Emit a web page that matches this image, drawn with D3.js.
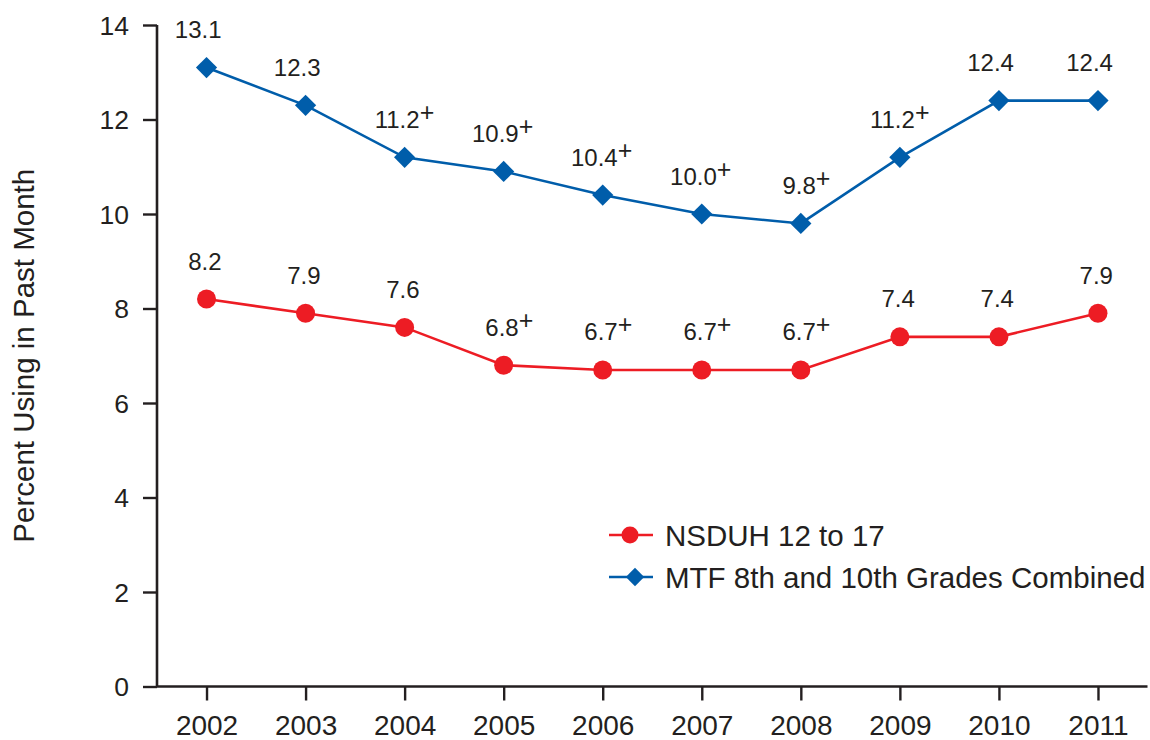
<!DOCTYPE html>
<html>
<head>
<meta charset="utf-8">
<script src="https://cdn.jsdelivr.net/npm/d3@7"></script>
<style>
  html, body { margin: 0; padding: 0; background: #fff; }
  svg { display: block; font-family: "Liberation Sans", Arial, Helvetica, sans-serif; }
</style>
</head>
<body>
<svg id="chart" width="1150" height="740"></svg>
<script>
// Past-month use by year, two surveys
const years = [2002, 2003, 2004, 2005, 2006, 2007, 2008, 2009, 2010, 2011];
const nsduhValues = [8.2, 7.9, 7.6, 6.8, 6.7, 6.7, 6.7, 7.4, 7.4, 7.9];
const mtfValues = [13.1, 12.3, 11.2, 10.9, 10.4, 10.0, 9.8, 11.2, 12.4, 12.4];
// "+" marks years that differ significantly from the final year
const nsduhSig = [false, false, false, true, true, true, true, false, false, false];
const mtfSig = [false, false, true, true, true, true, true, true, false, false];
const yTicks = [0, 2, 4, 6, 8, 10, 12, 14];
const seriesNames = ["NSDUH 12 to 17", "MTF 8th and 10th Grades Combined"];
const yTitle = "Percent Using in Past Month";

const ink = "#231f20";
const red = "#ed1c24";
const blue = "#005daa";

const svg = d3.select("#chart");
const plotLeft = 157, plotRight = 1147.5, plotTop = 25, plotBottom = 686.5;

const x = d3.scaleLinear().domain([2001.5, 2011.5]).range([plotLeft, plotRight]);
const y = d3.scaleLinear().domain([0, 14]).range([plotBottom, plotTop]);

// Y axis
const yAxis = svg.append("g")
  .attr("transform", `translate(${plotLeft},0)`)
  .call(d3.axisLeft(y).tickValues(yTicks).tickSize(14).tickPadding(14).tickFormat(d3.format("d")));
yAxis.select(".domain").attr("d", `M0,${plotTop}V${plotBottom}`).attr("stroke", ink).attr("stroke-width", 2.6);
yAxis.selectAll(".tick line").attr("stroke", ink).attr("stroke-width", 2.4);
yAxis.selectAll(".tick text").attr("fill", ink).attr("font-size", 26.5).attr("dy", "0.35em");

// X axis
const xAxis = svg.append("g")
  .attr("transform", `translate(0,${plotBottom})`)
  .call(d3.axisBottom(x).tickValues(years).tickSize(14).tickPadding(14.5).tickFormat(d3.format("d")));
xAxis.select(".domain").attr("d", `M${plotLeft},0H${plotRight}`).attr("stroke", ink).attr("stroke-width", 2.6);
xAxis.selectAll(".tick line").attr("stroke", ink).attr("stroke-width", 2.4);
xAxis.selectAll(".tick text").attr("fill", ink).attr("font-size", 28).attr("dy", "0.71em");

// Y axis title
svg.append("text")
  .attr("transform", `translate(34,${(plotTop + plotBottom) / 2}) rotate(-90)`)
  .attr("text-anchor", "middle")
  .attr("fill", ink)
  .attr("font-size", 29.5)
  .text(yTitle);

const line = d3.line().x(d => x(d.year)).y(d => y(d.value));

function drawSeries(values, sig, color, shape) {
  const data = years.map((yr, i) => ({ year: yr, value: values[i], sig: sig[i] }));
  const g = svg.append("g");
  g.append("path").datum(data)
    .attr("d", line).attr("fill", "none")
    .attr("stroke", color).attr("stroke-width", 2.6);
  if (shape === "circle") {
    g.selectAll("circle").data(data).join("circle")
      .attr("cx", d => x(d.year)).attr("cy", d => y(d.value))
      .attr("r", 9.5).attr("fill", color);
  } else {
    const sym = d3.symbol().type(d3.symbolSquare).size(225);
    g.selectAll("path.mk").data(data).join("path").attr("class", "mk")
      .attr("d", sym)
      .attr("transform", d => `translate(${x(d.year)},${y(d.value)}) rotate(45)`)
      .attr("fill", color);
  }
  // Value labels, right-aligned just past the marker, "+" as superscript
  const lbl = g.selectAll("g.lbl").data(data).join("g").attr("class", "lbl")
    .attr("transform", d => `translate(${x(d.year) + 15},${y(d.value) - 29.5})`);
  lbl.append("text")
    .attr("text-anchor", "end").attr("fill", ink).attr("font-size", 24)
    .text(d => d3.format(".1f")(d.value));
  lbl.filter(d => d.sig).append("text")
    .attr("x", 0).attr("y", -7)
    .attr("fill", ink).attr("font-size", 25)
    .text("+");
}

drawSeries(nsduhValues, nsduhSig, red, "circle");
drawSeries(mtfValues, mtfSig, blue, "diamond");

// Legend
const legend = svg.append("g");
const legendRows = [
  { name: seriesNames[0], color: red, shape: "circle", y: 535 },
  { name: seriesNames[1], color: blue, shape: "diamond", y: 577 }
];
legendRows.forEach(r => {
  legend.append("line")
    .attr("x1", 609).attr("x2", 653).attr("y1", r.y).attr("y2", r.y)
    .attr("stroke", r.color).attr("stroke-width", 2.6);
  if (r.shape === "circle") {
    legend.append("circle").attr("cx", 630).attr("cy", r.y).attr("r", 8.5).attr("fill", r.color);
  } else {
    legend.append("path")
      .attr("d", d3.symbol().type(d3.symbolSquare).size(169)())
      .attr("transform", `translate(635,${r.y}) rotate(45)`)
      .attr("fill", r.color);
  }
  legend.append("text")
    .attr("x", 665).attr("y", r.y + 10.5)
    .attr("fill", ink).attr("font-size", 29.5)
    .text(r.name);
});
</script>
</body>
</html>
